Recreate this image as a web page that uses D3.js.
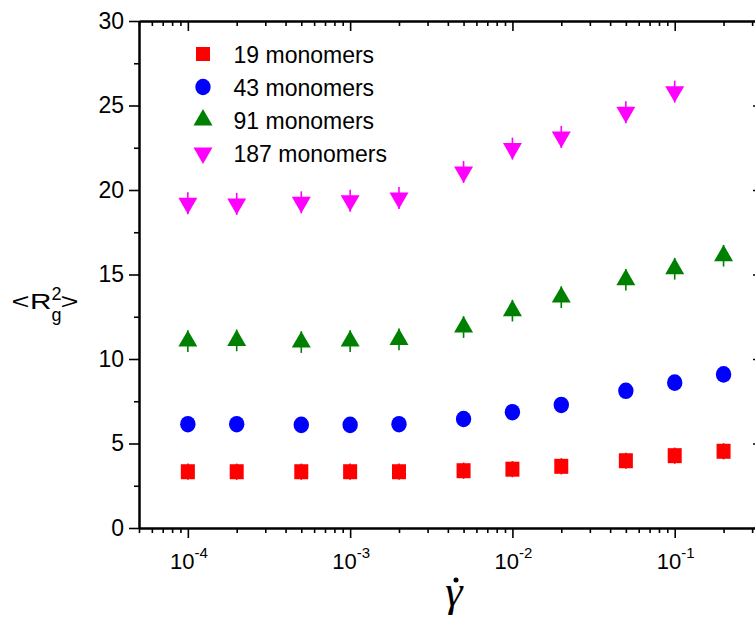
<!DOCTYPE html>
<html>
<head>
<meta charset="utf-8">
<script src="https://cdn.jsdelivr.net/npm/d3@7"></script>
<style>
  html, body { margin: 0; padding: 0; background: #fff; }
  svg { display: block; font-family: "Liberation Sans", Arial, sans-serif; }
</style>
</head>
<body>
<svg id="chart" width="755" height="619"></svg>
<script>
// Shear rates (x) and mean squared radius of gyration for each chain length
const shearRates = [1e-4, 2e-4, 5e-4, 1e-3, 2e-3, 5e-3, 1e-2, 2e-2, 5e-2, 1e-1, 2e-1];
const rg19  = [3.33, 3.33, 3.33, 3.33, 3.33, 3.39, 3.48, 3.65, 3.98, 4.28, 4.54];
const rg43  = [6.14, 6.14, 6.10, 6.10, 6.14, 6.45, 6.85, 7.28, 8.12, 8.60, 9.09];
const rg91  = [11.06, 11.10, 11.00, 11.06, 11.16, 11.89, 12.86, 13.66, 14.69, 15.34, 16.11];
const rg187 = [19.21, 19.18, 19.27, 19.37, 19.53, 21.07, 22.45, 23.14, 24.60, 25.82];
const err19 = 0.48, err43 = 0.45, err91 = 0.64, err187 = 0.65;

const seriesLabels = ["19 monomers", "43 monomers", "91 monomers", "187 monomers"];
const yTickValues = [0, 5, 10, 15, 20, 25, 30];
const yMinorValues = [2.5, 7.5, 12.5, 17.5, 22.5, 27.5];
const xMajorExponents = [-4, -3, -2, -1];

const svg = d3.select("#chart");
const plotLeft = 139, plotRight = 763, plotTop = 21, plotBottom = 528;

const x = d3.scaleLog().domain([5e-5, 0.35]).range([plotLeft, plotRight]);
const y = d3.scaleLinear().domain([0, 30]).range([plotBottom, plotTop]);

const xMajor = xMajorExponents.map(e => Math.pow(10, e));
const xMinor = [];
for (let e = -5; e <= -1; e++) {
  for (let m = 2; m <= 9; m++) {
    const v = m * Math.pow(10, e);
    if (v >= 5e-5 && v <= 0.35) xMinor.push(v);
  }
}

function styleAxis(g) {
  g.select(".domain").attr("stroke", "#000").attr("stroke-width", 2);
  g.selectAll(".tick line").attr("stroke", "#000").attr("stroke-width", 1.6);
}

// bottom axis: ticks outward, labels as powers of ten
const gBottom = svg.append("g").attr("transform", `translate(0,${plotBottom})`)
  .call(d3.axisBottom(x).tickValues(xMajor).tickSize(10).tickSizeOuter(0).tickFormat(""));
styleAxis(gBottom);
gBottom.selectAll(".tick").each(function(d) {
  const t = d3.select(this).append("text")
    .attr("y", 40.7).attr("x", 0.5)
    .attr("text-anchor", "middle")
    .attr("fill", "#000")
    .style("font-size", "22px");
  t.append("tspan").text("10");
  t.append("tspan").attr("dy", -10.7).style("font-size", "15px")
    .text(String(Math.round(Math.log10(d))));
});
const gBottomMinor = svg.append("g").attr("transform", `translate(0,${plotBottom})`)
  .call(d3.axisBottom(x).tickValues(xMinor).tickSize(5).tickSizeOuter(0).tickFormat(""));
styleAxis(gBottomMinor);

// top axis: ticks inward
const gTop = svg.append("g").attr("transform", `translate(0,${plotTop})`)
  .call(d3.axisBottom(x).tickValues(xMajor).tickSize(10).tickSizeOuter(0).tickFormat(""));
styleAxis(gTop);
const gTopMinor = svg.append("g").attr("transform", `translate(0,${plotTop})`)
  .call(d3.axisBottom(x).tickValues(xMinor).tickSize(5).tickSizeOuter(0).tickFormat(""));
styleAxis(gTopMinor);

// left axis: ticks outward with labels
const gLeft = svg.append("g").attr("transform", `translate(${plotLeft},0)`)
  .call(d3.axisLeft(y).tickValues(yTickValues).tickSize(10).tickSizeOuter(0).tickPadding(5).tickFormat(d3.format("d")));
styleAxis(gLeft);
gLeft.selectAll(".tick text").attr("fill", "#000").style("font-size", "23px")
  .style("font-family", "'Liberation Sans', Arial, sans-serif");
const gLeftMinor = svg.append("g").attr("transform", `translate(${plotLeft},0)`)
  .call(d3.axisLeft(y).tickValues(yMinorValues).tickSize(5).tickSizeOuter(0).tickFormat(""));
styleAxis(gLeftMinor);

// right axis: ticks inward
const gRight = svg.append("g").attr("transform", `translate(${plotRight},0)`)
  .call(d3.axisLeft(y).tickValues(yTickValues).tickSize(10).tickSizeOuter(0).tickFormat(""));
styleAxis(gRight);
const gRightMinor = svg.append("g").attr("transform", `translate(${plotRight},0)`)
  .call(d3.axisLeft(y).tickValues(yMinorValues).tickSize(5).tickSizeOuter(0).tickFormat(""));
styleAxis(gRightMinor);

// marker shapes
const triSize = 156;
const upTri = d3.symbol().type(d3.symbolTriangle).size(triSize)();
const series = [
  { values: rg19,  err: err19,  color: "#ff0000", shape: "square" },
  { values: rg43,  err: err43,  color: "#0000ff", shape: "circle" },
  { values: rg91,  err: err91,  color: "#008000", shape: "up" },
  { values: rg187, err: err187, color: "#ff00ff", shape: "down" }
];

function drawMarker(g, shape, color) {
  if (shape === "square") {
    g.append("rect").attr("x", -7).attr("y", -7.5).attr("width", 14).attr("height", 15).attr("fill", color);
  } else if (shape === "circle") {
    g.append("ellipse").attr("rx", 7.7).attr("ry", 8.3).attr("fill", color);
  } else if (shape === "up") {
    g.append("path").attr("d", upTri).attr("fill", color);
  } else {
    g.append("path").attr("d", upTri).attr("transform", "rotate(180)").attr("fill", color);
  }
}

const plot = svg.append("g");
series.forEach(s => {
  const pts = s.values.map((v, i) => ({ x: shearRates[i], v }));
  // error bars drawn under the markers
  plot.append("g").selectAll("line").data(pts).join("line")
    .attr("x1", d => x(d.x)).attr("x2", d => x(d.x))
    .attr("y1", d => y(d.v - s.err)).attr("y2", d => y(d.v + s.err))
    .attr("stroke", s.color).attr("stroke-width", 1.6);
  plot.append("g").selectAll("g").data(pts).join("g")
    .attr("transform", d => `translate(${x(d.x)},${y(d.v)})`)
    .each(function() { drawMarker(d3.select(this), s.shape, s.color); });
});

// legend
const legend = svg.append("g");
series.forEach((s, i) => {
  const cy = 54 + 33 * i;
  const g = legend.append("g").attr("transform", `translate(203,${cy})`);
  if (s.shape === "square") {
    g.append("rect").attr("x", -7).attr("y", -7).attr("width", 14).attr("height", 14).attr("fill", s.color);
  } else {
    drawMarker(g, s.shape, s.color);
  }
  legend.append("text").attr("x", 233.5).attr("y", cy + 8.7)
    .attr("fill", "#000").style("font-size", "23px").text(seriesLabels[i]);
});

// y axis title: <R_g^2>
const yt = svg.append("g").attr("fill", "#000");
function wideGlyph(ch, xPos, sx) {
  yt.append("text").attr("transform", `translate(${xPos},309) scale(${sx},1)`)
    .style("font-size", "22px").text(ch);
}
wideGlyph("<", 11.5, 1.4);
wideGlyph("R", 30, 1.35);
wideGlyph(">", 60.5, 1.4);
yt.append("text").attr("x", 51.5).attr("y", 300).style("font-size", "18px").text("2");
yt.append("text").attr("x", 51.5).attr("y", 321.3).style("font-size", "18px").text("g");

// x axis title: gamma dot
svg.append("text").attr("x", 454).attr("y", 606)
  .attr("text-anchor", "middle")
  .style("font-family", "'Liberation Serif', 'Times New Roman', serif")
  .style("font-style", "italic").style("font-size", "44px")
  .attr("fill", "#000").text("γ");
svg.append("circle").attr("cx", 456).attr("cy", 580).attr("r", 2.5).attr("fill", "#000");
</script>
</body>
</html>
